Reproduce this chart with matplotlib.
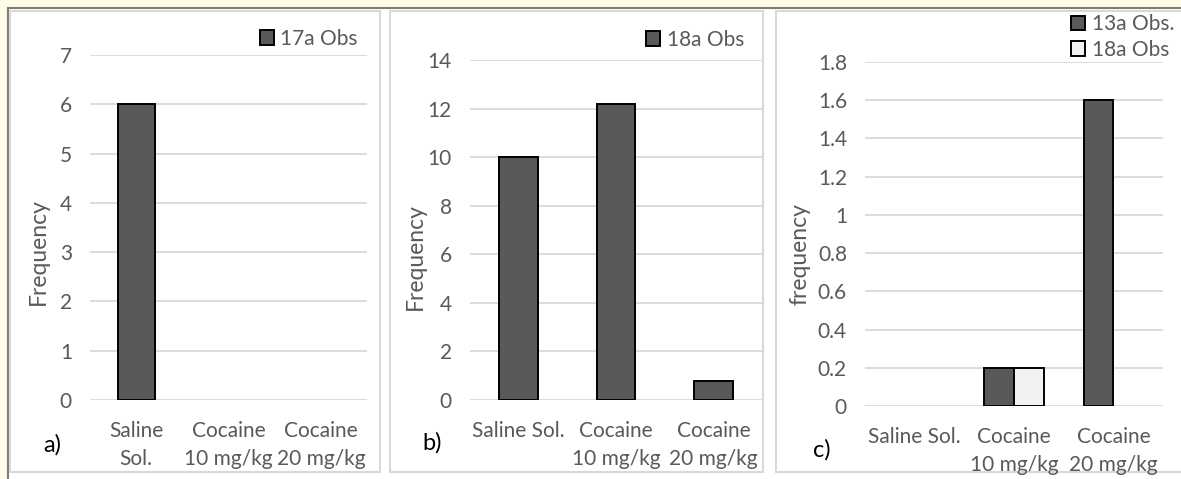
import matplotlib.pyplot as plt
from matplotlib.patches import Rectangle, Patch
import numpy as np

plt.rcParams['font.family'] = ['Lato', 'DejaVu Sans']

W, H = 1181, 479

# data
cats_a = ['Saline\nSol.', 'Cocaine\n10 mg/kg', 'Cocaine\n20 mg/kg']
cats_bc = ['Saline Sol.', 'Cocaine\n10 mg/kg', 'Cocaine\n20 mg/kg']
obs_17a = [6, 0, 0]
obs_18a = [10, 12.2, 0.8]
obs_13a_c = [0, 0.2, 1.6]
obs_18a_c = [0, 0.2, 0]

DARK = '#595959'
LIGHT = '#f2f2f2'
GRID = '#d9d9d9'
TXT = '#595959'
FS = 15

fig = plt.figure(figsize=(W / 100, H / 100), dpi=100)
fig.patch.set_facecolor('#fffbea')


def fig_rect(l, t, r, b, **kw):
    fig.patches.append(Rectangle((l / W, 1 - b / H), (r - l) / W, (b - t) / H,
                                 transform=fig.transFigure, zorder=-10, **kw))


# white page, dark frame line, panel borders
fig_rect(8, 8, W + 5, H + 5, facecolor='white', edgecolor='#7d7d70', lw=1.5)
for l, r in [(10, 380), (390, 763), (776, W + 5)]:
    fig_rect(l, 11, r, 472, facecolor='white', edgecolor=GRID, lw=1.5)


def px_axes(l, t, r, b):
    ax = fig.add_axes([l / W, 1 - b / H, (r - l) / W, (b - t) / H])
    ax.set_facecolor('none')
    for s in ax.spines.values():
        s.set_visible(False)
    ax.tick_params(length=0, labelsize=FS, labelcolor=TXT)
    ax.tick_params(axis='x', pad=15)
    ax.tick_params(axis='y', pad=13)
    ax.yaxis.grid(True, color=GRID, lw=1.3)
    ax.set_axisbelow(True)
    return ax


def bars(ax, xs, vals, width, color):
    # excel draws nothing for a zero bar
    lws = [1.4 if v else 0 for v in vals]
    ax.bar(xs, vals, width=width, color=color, edgecolor='black', linewidth=lws)


def add_legend(ax, handles, right, cy):
    ax.legend(handles=handles, loc='center right',
              bbox_to_anchor=(right / W, 1 - cy / H), bbox_transform=fig.transFigure,
              frameon=False, handlelength=0.7, handleheight=0.7, handletextpad=0.3,
              borderpad=0, borderaxespad=0, labelspacing=0.25, fontsize=FS,
              labelcolor=TXT)


x = np.arange(3)

# a)
ax = px_axes(90, 55, 367, 400)
bars(ax, x, obs_17a, 0.4, DARK)
ax.set_xlim(-0.5, 2.5)
ax.set_ylim(0, 7)
ax.set_yticks(range(0, 8))
ax.set_xticks(x)
ax.set_xticklabels(cats_a, ma='center', linespacing=1.5)
add_legend(ax, [Patch(facecolor=DARK, edgecolor='black', lw=1.4, label='17a Obs')], 358, 39)
fig.text(38 / W, 1 - 252 / H, 'Frequency', rotation=90, ha='center', va='center',
         fontsize=16.5, color=TXT)
fig.text(52 / W, 1 - 445 / H, 'a)', ha='center', va='center', fontsize=17, color='black')

# b)
ax = px_axes(470, 60, 762, 400)
bars(ax, x, obs_18a, 0.4, DARK)
ax.set_xlim(-0.5, 2.5)
ax.set_ylim(0, 14)
ax.set_yticks(range(0, 15, 2))
ax.set_xticks(x)
ax.set_xticklabels(cats_bc, ma='center', linespacing=1.5)
add_legend(ax, [Patch(facecolor=DARK, edgecolor='black', lw=1.4, label='18a Obs')], 744, 40)
fig.text(415 / W, 1 - 257 / H, 'Frequency', rotation=90, ha='center', va='center',
         fontsize=16.5, color=TXT)
fig.text(432 / W, 1 - 443 / H, 'b)', ha='center', va='center', fontsize=17, color='black')

# c)
ax = px_axes(865, 62, 1163, 406)
bars(ax, x - 0.15, obs_13a_c, 0.3, DARK)
bars(ax, x + 0.15, obs_18a_c, 0.3, LIGHT)
ax.set_xlim(-0.5, 2.5)
ax.set_ylim(0, 1.8)
ax.set_yticks(np.arange(0, 1.81, 0.2))
ax.set_yticklabels(['0', '0.2', '0.4', '0.6', '0.8', '1', '1.2', '1.4', '1.6', '1.8'])
ax.set_xticks(x)
ax.set_xticklabels(cats_bc, ma='center', linespacing=1.5)
add_legend(ax, [Patch(facecolor=DARK, edgecolor='black', lw=1.4, label='13a Obs.'),
                Patch(facecolor=LIGHT, edgecolor='black', lw=1.4, label='18a Obs')], 1174, 37)
fig.text(800 / W, 1 - 254 / H, 'frequency', rotation=90, ha='center', va='center',
         fontsize=16.5, color=TXT)
fig.text(822 / W, 1 - 450 / H, 'c)', ha='center', va='center', fontsize=17, color='black')

fig.savefig('out.png', dpi=100, facecolor=fig.get_facecolor())
